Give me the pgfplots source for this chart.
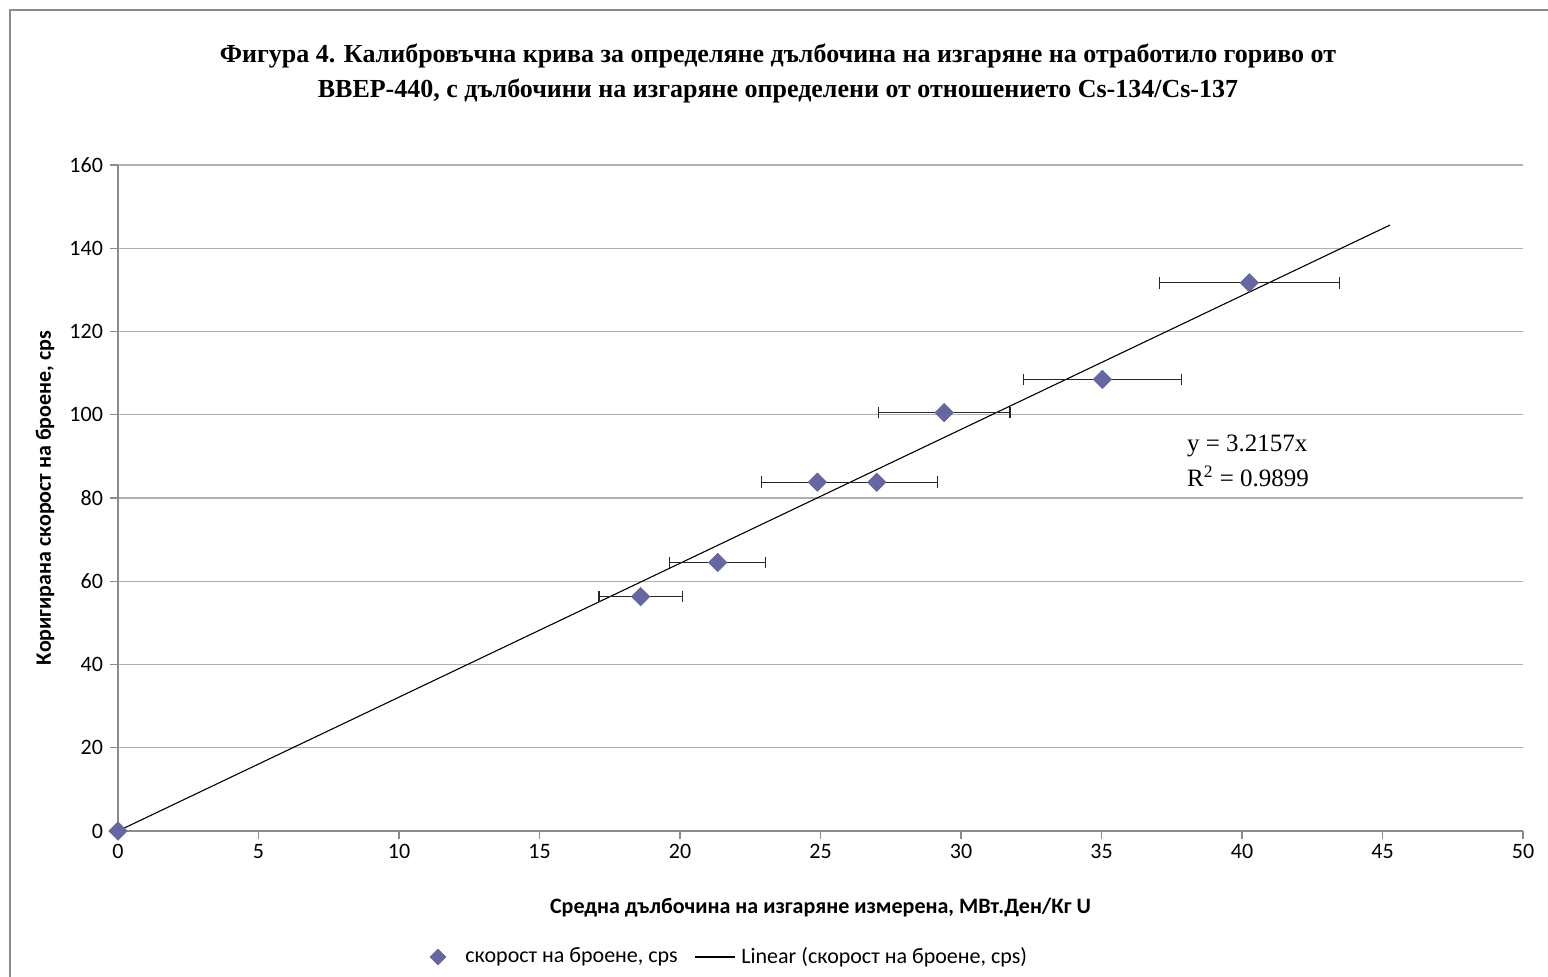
\documentclass[border=0pt]{standalone}
\usepackage{fontspec}
\setmainfont{Carlito}
\newfontfamily\timesf{Liberation Serif}
\usepackage{pgfplots}
\pgfplotsset{compat=1.18}
\usepackage{pgfplotstable}
\definecolor{mk}{RGB}{102,102,160}
\definecolor{gridc}{RGB}{175,175,175}
\definecolor{axc}{RGB}{140,140,140}
\pgfplotstableread{
x y ex
18.60 56.3 1.48
21.34 64.5 1.70
24.89 83.8 2.00
27.00 83.8 2.17
29.40 100.5 2.34
35.03 108.5 2.81
40.26 131.7 3.21
}\pts
\begin{document}
\begin{tikzpicture}[x=1pt,y=1pt]
\begin{axis}[
  name=ax, at={(0,0)}, anchor=south west,
  scale only axis, width=702.5pt, height=333pt,
  xmin=0, xmax=50, ymin=0, ymax=160,
  xtick={0,5,...,50}, ytick={0,20,...,160},
  axis x line*=bottom, axis y line*=left,
  axis line style={axc, line width=0.7pt},
  tick align=outside, major tick length=4pt,
  tick style={axc, line width=0.7pt},
  ymajorgrids, grid style={gridc, line width=0.7pt},
  ticklabel style={font=\fontsize{11}{13}\selectfont},
  /pgf/number format/assume math mode=true,
  xticklabel style={yshift=1pt},
  yticklabel style={xshift=0pt},
  clip=false,
]
\addplot[black, line width=0.55pt] coordinates {(0,0) (45.27,145.58)};
\addplot[only marks, mark=square*, mark size=3.2pt, mark options={fill=mk, draw=mk, rotate=45},
  error bars/.cd, x dir=both, x explicit,
  error mark=|,
  error bar style={black!85, line width=0.6pt},
  error mark options={black!85, line width=0.6pt, mark size=2.9pt, rotate=0}]
  table[x=x, y=y, x error=ex] {\pts};
\addplot[only marks, mark=square*, mark size=3.2pt, mark options={fill=mk, draw=mk, rotate=45}] coordinates {(0,0)};
\end{axis}
% frame
\draw[gridc!80!black, line width=1pt] (-54,-80) -- (-54,410.5) -- (720,410.5);
% title
\node[font=\timesf\bfseries\fontsize{13}{17.5}\selectfont, align=center] at (330,379)
  {Фигура 4. Калибровъчна крива за определяне дълбочина на изгаряне на отработило гориво от\\
   ВВЕР-440, с дълбочини на изгаряне определени от отношението Cs-134/Cs-137};
% axis labels
\node[font=\bfseries\fontsize{11}{13}\selectfont, rotate=90] at (-36.5,166.5)
  {Коригирана скорост на броене, cps};
\node[font=\bfseries\fontsize{11}{13}\selectfont] at (351.25,-38.5)
  {Средна дълбочина на изгаряне измерена, МВт.Ден/Кг U};
% equation
\node[font=\timesf\fontsize{12.5}{17.5}\selectfont, align=left, anchor=west] at (531,185)
  {y = 3.2157x\\R\textsuperscript{2} = 0.9899};
% legend
\fill[mk] (160,-63) ++(0,4.2) -- ++(4.2,-4.2) -- ++(-4.2,-4.2) -- ++(-4.2,4.2) -- cycle;
\node[font=\fontsize{11}{13}\selectfont, anchor=west, inner sep=0pt] at (173.5,-63) {скорост на броене, cps};
\draw[black, line width=0.6pt] (288.5,-63) -- (308.5,-63);
\node[font=\fontsize{11}{13}\selectfont, anchor=west, inner sep=0pt] at (311.5,-63) {Linear (скорост на броене, cps)};
\pgfresetboundingbox
\path (-59,-72.5) rectangle (715,415.5);
\end{tikzpicture}
\end{document}
